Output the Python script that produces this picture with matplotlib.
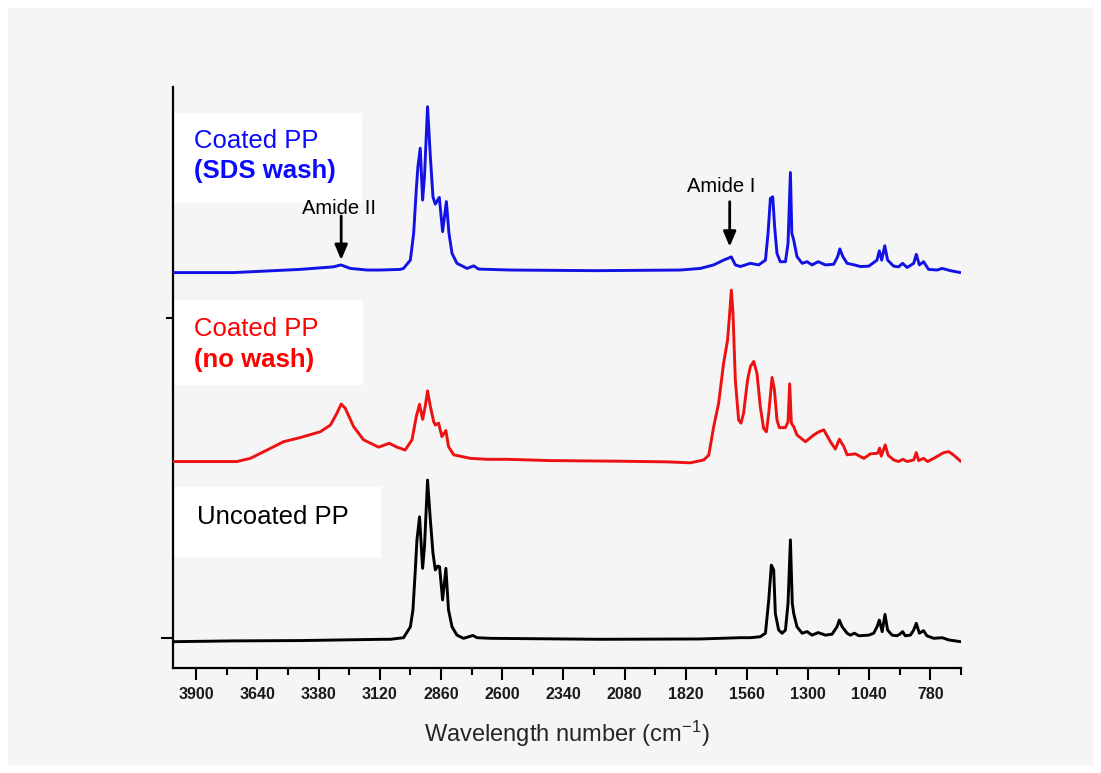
import matplotlib
matplotlib.use("Agg")
import matplotlib.pyplot as plt
from matplotlib.patches import Rectangle

plt.rcParams['font.family'] = ['Liberation Sans', 'DejaVu Sans']
plt.rcParams['mathtext.fontset'] = 'custom'
plt.rcParams['mathtext.rm'] = 'Liberation Sans'
plt.rcParams['mathtext.it'] = 'Liberation Sans:italic'
plt.rcParams['mathtext.bf'] = 'Liberation Sans:bold'

# ---------------- data ----------------
wn_black = [4000, 3741, 3458, 3105, 3075, 3019, 2990, 2979, 2969, 2962, 2951, 2938, 2930, 2917, 2905,
            2894, 2884, 2874, 2866, 2853, 2839, 2828, 2813, 2792, 2764, 2724, 2707, 2650, 2183, 1758,
            1588, 1545, 1503, 1481, 1467, 1456, 1446, 1439, 1425, 1410, 1396, 1385, 1375, 1367, 1361,
            1347, 1325, 1304, 1283, 1257, 1226, 1198, 1177, 1167, 1155, 1134, 1120, 1103, 1084, 1042,
            1021, 1007, 997, 985, 973, 962, 943, 922, 908, 898, 887, 865, 851, 840, 827,
            809, 795, 766, 730, 702, 652]
int_black = [-0.0125, -0.010, -0.009, -0.005, -0.005, 0.0, 0.034, 0.087, 0.212, 0.306, 0.378, 0.217, 0.285, 0.493, 0.368,
             0.265, 0.212, 0.224, 0.222, 0.118, 0.217, 0.087, 0.034, 0.008, -0.002, 0.007, 0.0, -0.002, -0.005, -0.004,
             0.0, 0.0, 0.003, 0.014, 0.118, 0.227, 0.212, 0.076, 0.024, 0.014, 0.024, 0.108, 0.306, 0.108, 0.076,
             0.034, 0.014, 0.019, 0.008, 0.016, 0.008, 0.011, 0.034, 0.055, 0.034, 0.014, 0.008, 0.014, 0.006, 0.008,
             0.014, 0.034, 0.055, 0.019, 0.073, 0.024, 0.008, 0.006, 0.012, 0.019, 0.006, 0.008, 0.024, 0.045, 0.014,
             0.022, 0.006, -0.002, 0.0, -0.007, -0.0125]

wn_red = [4000, 3727, 3670, 3599, 3529, 3458, 3373, 3330, 3302, 3284, 3267, 3231, 3189, 3125, 3080,
          3047, 3012, 2983, 2965, 2951, 2938, 2927, 2917, 2905, 2891, 2884, 2870, 2856, 2839, 2828,
          2806, 2735, 2664, 2579, 2400, 2100, 1900, 1800, 1743, 1722, 1701, 1680, 1659, 1642, 1633,
          1626, 1619, 1609, 1595, 1585, 1574, 1557, 1545, 1531, 1517, 1503, 1489, 1477, 1467, 1453,
          1443, 1432, 1422, 1396, 1385, 1378, 1371, 1361, 1347, 1311, 1276, 1254, 1233, 1205, 1184,
          1167, 1148, 1134, 1099, 1063, 1035, 1004, 996, 989, 972, 960, 936, 915, 898, 879,
          851, 840, 830, 809, 792, 766, 723, 702, 681, 650]
int_red = [0.001, 0.001, 0.011, 0.037, 0.063, 0.076, 0.094, 0.115, 0.152, 0.181, 0.168, 0.110, 0.069, 0.046, 0.058,
           0.046, 0.037, 0.069, 0.141, 0.180, 0.133, 0.173, 0.222, 0.173, 0.126, 0.115, 0.121, 0.079, 0.098, 0.048,
           0.022, 0.011, 0.008, 0.008, 0.004, 0.002, 0.0, -0.003, 0.006, 0.021, 0.110, 0.183, 0.308, 0.381, 0.465,
           0.537, 0.465, 0.256, 0.131, 0.121, 0.152, 0.256, 0.298, 0.314, 0.277, 0.173, 0.105, 0.094, 0.152, 0.264,
           0.226, 0.131, 0.107, 0.107, 0.126, 0.244, 0.121, 0.110, 0.084, 0.063, 0.084, 0.094, 0.100, 0.063, 0.040,
           0.071, 0.048, 0.022, 0.025, 0.011, 0.025, 0.027, 0.043, 0.018, 0.053, 0.021, 0.006, 0.001, 0.008, 0.001,
           0.006, 0.029, 0.004, 0.011, 0.001, 0.011, 0.029, 0.032, 0.021, 0.001]

wn_blue = [4000, 3741, 3458, 3316, 3285, 3245, 3174, 3118, 3033, 3019, 2990, 2976, 2965, 2958, 2948,
           2938, 2930, 2917, 2905, 2894, 2884, 2867, 2853, 2837, 2826, 2813, 2792, 2749, 2721, 2700,
           2565, 2200, 1843, 1758, 1701, 1659, 1626, 1609, 1588, 1545, 1510, 1481, 1470, 1460, 1450,
           1442, 1432, 1418, 1396, 1385, 1375, 1369, 1361, 1347, 1325, 1304, 1283, 1257, 1226, 1191,
           1174, 1165, 1152, 1134, 1103, 1078, 1042, 1007, 997, 987, 974, 962, 936, 915, 898,
           879, 851, 840, 827, 809, 788, 752, 730, 695, 652]
int_blue = [0.002, 0.002, 0.012, 0.020, 0.026, 0.015, 0.010, 0.010, 0.012, 0.015, 0.041, 0.125, 0.260, 0.333, 0.391,
            0.229, 0.302, 0.521, 0.364, 0.239, 0.216, 0.237, 0.130, 0.224, 0.125, 0.062, 0.031, 0.015, 0.023, 0.013,
            0.010, 0.008, 0.010, 0.015, 0.026, 0.041, 0.051, 0.026, 0.021, 0.031, 0.026, 0.041, 0.125, 0.234, 0.239,
            0.145, 0.062, 0.036, 0.036, 0.094, 0.315, 0.125, 0.104, 0.052, 0.031, 0.036, 0.026, 0.036, 0.026, 0.028,
            0.052, 0.076, 0.052, 0.031, 0.026, 0.021, 0.022, 0.041, 0.070, 0.041, 0.086, 0.041, 0.022, 0.020, 0.031,
            0.018, 0.031, 0.059, 0.026, 0.036, 0.012, 0.010, 0.015, 0.008, 0.002]

series_names = ["Uncoated PP", "Coated PP (no wash)", "Coated PP (SDS wash)"]
offsets = [0.0, 0.55, 1.14]

x_ticks = [3900, 3640, 3380, 3120, 2860, 2600, 2340, 2080, 1820, 1560, 1300, 1040, 780]
x_label = "Wavelength number (cm$^{-1}$)"
amide_positions = {"Amide II": 3284, "Amide I": 1633}

# ---------------- figure ----------------
fig = plt.figure(figsize=(11.01, 7.73), dpi=100, facecolor='white')
fig.patches.append(Rectangle((8 / 1101, 8 / 773), 1 - 16 / 1101, 1 - 16 / 773,
                             transform=fig.transFigure, facecolor='#f5f5f5',
                             edgecolor='none', zorder=-10))

ax = fig.add_axes([172.7 / 1101, 1 - 668 / 773, 788.3 / 1101, 581 / 773])
ax.set_facecolor('none')

# white label boxes (axes fraction)
for (x0, y0, w, h) in [(0.0, 0.800, 0.240, 0.155),
                       (0.0, 0.487, 0.241, 0.146),
                       (0.0, 0.191, 0.264, 0.121)]:
    ax.add_patch(Rectangle((x0, y0), w, h, transform=ax.transAxes,
                           facecolor='white', edgecolor='none', zorder=0))

lw = 2.1
line_kw = dict(lw=lw, zorder=3, solid_joinstyle='round', solid_capstyle='round')
ax.plot(wn_black, [v + offsets[0] for v in int_black], color='#000000', **line_kw)
ax.plot(wn_red, [v + offsets[1] for v in int_red], color='#ee1111', **line_kw)
ax.plot(wn_blue, [v + offsets[2] for v in int_blue], color='#1212e6', **line_kw)

ax.set_xlim(4000, 650)
ax.set_ylim(-0.0948, 1.7225)

# ticks
ax.set_xticks(x_ticks)
ax.set_xticks([t - 130 for t in x_ticks], minor=True)
ax.set_xticklabels([str(t) for t in x_ticks], fontsize=11.5, fontweight='bold', color='#1a1a1a')
ax.tick_params(axis='x', which='major', direction='out', length=8.5, width=1.5, pad=5)
ax.tick_params(axis='x', which='minor', direction='out', length=5, width=1.5)
ax.set_yticks([0])
ax.set_yticks([1], minor=True)
ax.set_yticklabels([])
ax.tick_params(axis='y', which='major', direction='out', length=9, width=1.5)
ax.tick_params(axis='y', which='minor', direction='out', length=5, width=1.5)

for s in ['top', 'right']:
    ax.spines[s].set_visible(False)
for s in ['left', 'bottom']:
    ax.spines[s].set_linewidth(1.6)

ax.set_xlabel(x_label, fontsize=17, color='#262626', labelpad=12)

# labels
ax.text(0.027, 0.8945, "Coated PP", transform=ax.transAxes, fontsize=18.5,
        color='#0a0aff', va='baseline', ha='left', zorder=4)
ax.text(0.027, 0.843, "(SDS wash)", transform=ax.transAxes, fontsize=18.5,
        fontweight='bold', color='#0a0aff', va='baseline', ha='left', zorder=4)
ax.text(0.027, 0.572, "Coated PP", transform=ax.transAxes, fontsize=18.5,
        color='#ff0000', va='baseline', ha='left', zorder=4)
ax.text(0.027, 0.5186, "(no wash)", transform=ax.transAxes, fontsize=18.5,
        fontweight='bold', color='#ff0000', va='baseline', ha='left', zorder=4)
ax.text(0.031, 0.2473, "Uncoated PP", transform=ax.transAxes, fontsize=18.5,
        color='#000000', va='baseline', ha='left', zorder=4)

# amide annotations
arrow_props = dict(arrowstyle='-|>,head_length=0.9,head_width=0.38', color='black', lw=2,
                   shrinkA=0, shrinkB=0)
ax.annotate('', xy=(amide_positions["Amide II"], 1.1814),
            xytext=(amide_positions["Amide II"], 1.3190), arrowprops=arrow_props, zorder=5)
ax.text(amide_positions["Amide II"] + 10, 1.3245, "Amide II", fontsize=14.5, ha='center',
        va='baseline', color='black', zorder=5)
ax.annotate('', xy=(amide_positions["Amide I"], 1.2230),
            xytext=(amide_positions["Amide I"], 1.3638), arrowprops=arrow_props, zorder=5)
ax.text(amide_positions["Amide I"] + 35, 1.3930, "Amide I", fontsize=14.5, ha='center',
        va='baseline', color='black', zorder=5)

fig.savefig("out.png", dpi=100, facecolor=fig.get_facecolor())
